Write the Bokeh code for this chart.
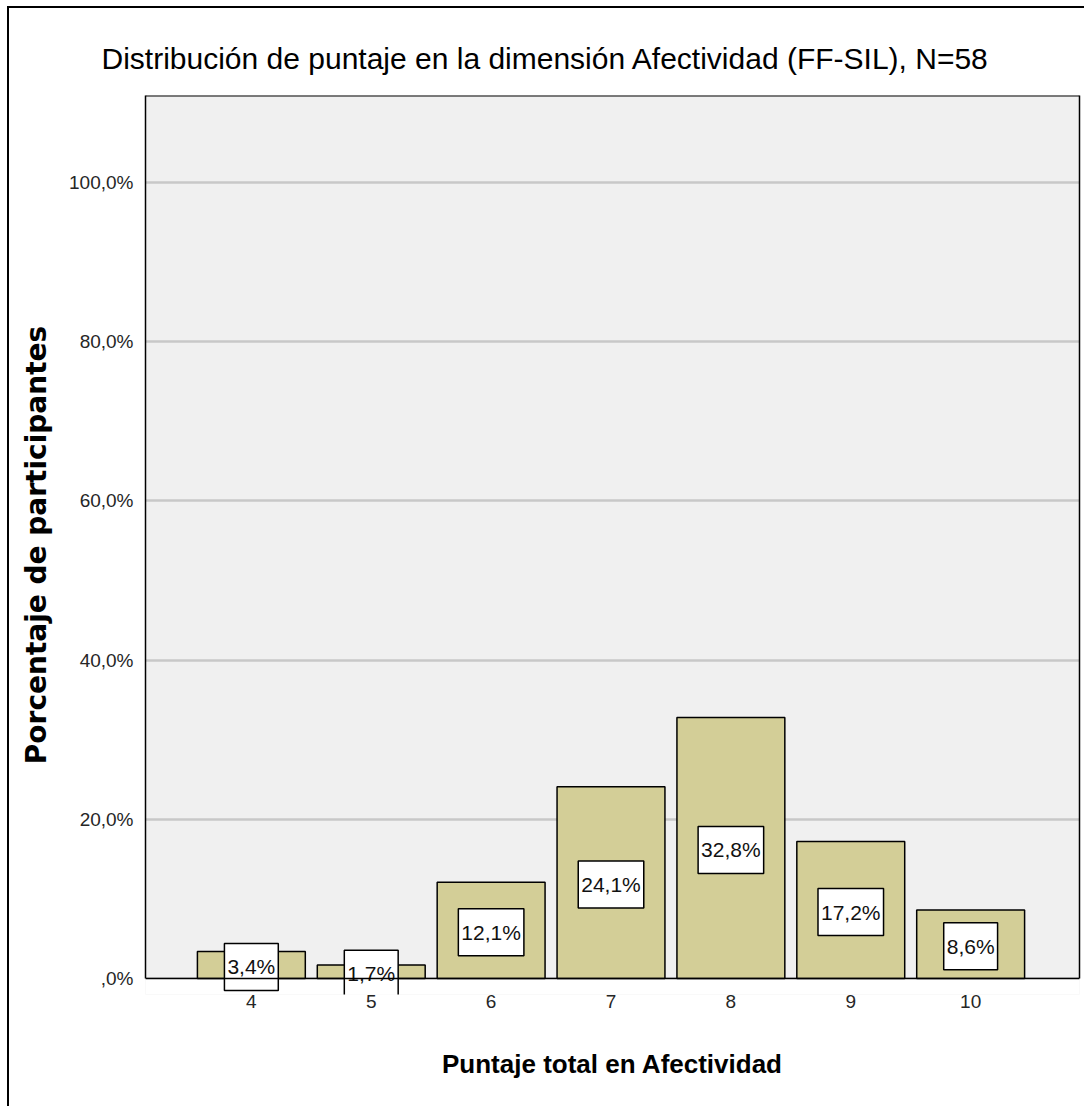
from bokeh.plotting import figure
from bokeh.models import (ColumnDataSource, Label, FixedTicker, Range1d,
                          BoxAnnotation, Span, LinearAxis)
from bokeh.embed import file_html
from bokeh.resources import INLINE

# ---- data ----
scores = [4, 5, 6, 7, 8, 9, 10]
percentages = [3.4, 1.7, 12.1, 24.1, 32.8, 17.2, 8.6]
pct_labels = ["3,4%", "1,7%", "12,1%", "24,1%", "32,8%", "17,2%", "8,6%"]
y_ticks = [0, 20, 40, 60, 80, 100]
y_tick_labels = [",0%", "20,0%", "40,0%", "60,0%", "80,0%", "100,0%"]
x_tick_labels = ["4", "5", "6", "7", "8", "9", "10"]

title_text = "Distribución de puntaje en la dimensión Afectividad (FF-SIL), N=58"
x_title = "Puntaje total en Afectividad"
y_title = "Porcentaje de participantes"

SANS = "Liberation Sans"
Y_MAX = 110.93

source = ColumnDataSource(dict(x=scores, top=percentages))

p = figure(
    width=1077, height=1100,
    x_range=Range1d(3.117, 10.908),
    y_range=Range1d(-2.01, Y_MAX),
    output_backend="svg",
    toolbar_location=None,
    min_border_left=136, min_border_right=7,
    min_border_top=87, min_border_bottom=114,
    title=title_text,
)
p.styles = {"border-left": "2px solid black", "border-top": "2px solid black",
            "margin-left": "7px", "margin-top": "6px"}

p.title.text_font = SANS
p.title.text_font_size = "30px"
p.title.text_font_style = "normal"
p.title.text_color = "black"
p.title.align = "left"
p.title.offset = -44
p.title.standoff = 42

p.background_fill_color = "#f0f0f0"
p.border_fill_color = "white"
p.outline_line_color = None

# white strip under the zero line (frame extends slightly below 0 so labels are not cut)
p.add_layout(BoxAnnotation(top=0, fill_color="white", fill_alpha=1.0,
                           line_color=None, level="underlay"))

p.vbar(x="x", top="top", bottom=0, width=0.9, source=source,
       fill_color="#d3ce97", line_color="black", line_width=1.5)

for xv, v, lab in zip(scores, percentages, pct_labels):
    p.add_layout(Label(x=xv, y=v / 2, y_offset=-2, text=lab, level="overlay",
                       text_align="center", text_baseline="middle",
                       text_font=SANS, text_font_size="21px", text_color="#111111",
                       background_fill_color="white", border_line_color="black",
                       border_line_width=1.5, padding=(3, 12)))

# zero line and top edge of the plot area
p.add_layout(Span(location=0, dimension="width", line_color="black",
                  line_width=1.5, level="overlay"))
p.add_layout(Span(location=Y_MAX, dimension="width", line_color="black",
                  line_width=2, level="overlay"))

# right edge of the plot area (from zero to top)
right_axis = LinearAxis(ticker=FixedTicker(ticks=[]), bounds=(0, Y_MAX),
                        axis_line_color="black", axis_line_width=1.5,
                        major_tick_line_color=None, minor_tick_line_color=None,
                        major_tick_in=0, major_tick_out=0,
                        major_label_standoff=0, major_label_text_font_size="0px")
p.add_layout(right_axis, "right")

# axes
p.xaxis[0].ticker = FixedTicker(ticks=scores)
p.xaxis[0].major_label_overrides = {s: l for s, l in zip(scores, x_tick_labels)}
p.yaxis[0].ticker = FixedTicker(ticks=y_ticks)
p.yaxis[0].major_label_overrides = {t: l for t, l in zip(y_ticks, y_tick_labels)}
p.yaxis[0].bounds = (0, Y_MAX)

for ax in (p.xaxis[0], p.yaxis[0]):
    ax.major_tick_line_color = None
    ax.minor_tick_line_color = None
    ax.major_tick_out = 0
    ax.major_tick_in = 0
    ax.major_label_text_font = SANS
    ax.major_label_text_font_size = "19px"
    ax.major_label_text_color = "#262626"

p.xaxis[0].axis_line_color = None
p.yaxis[0].axis_line_color = "black"
p.yaxis[0].axis_line_width = 1.5

p.xaxis[0].major_label_standoff = 0
p.yaxis[0].major_label_standoff = 12

p.xaxis[0].axis_label = x_title
p.xaxis[0].axis_label_text_font = SANS
p.xaxis[0].axis_label_text_font_style = "bold"
p.xaxis[0].axis_label_text_font_size = "26px"
p.xaxis[0].axis_label_text_color = "black"
p.xaxis[0].axis_label_standoff = 38

p.yaxis[0].axis_label = y_title
p.yaxis[0].axis_label_text_font = "DejaVu Sans"
p.yaxis[0].axis_label_text_font_style = "bold"
p.yaxis[0].axis_label_text_font_size = "28px"
p.yaxis[0].axis_label_text_color = "black"
p.yaxis[0].axis_label_standoff = 13

p.xgrid.grid_line_color = None
p.ygrid.grid_line_color = "#c8c8c8"
p.ygrid.grid_line_width = 2.5

open("out.html", "w").write(file_html(p, INLINE))
